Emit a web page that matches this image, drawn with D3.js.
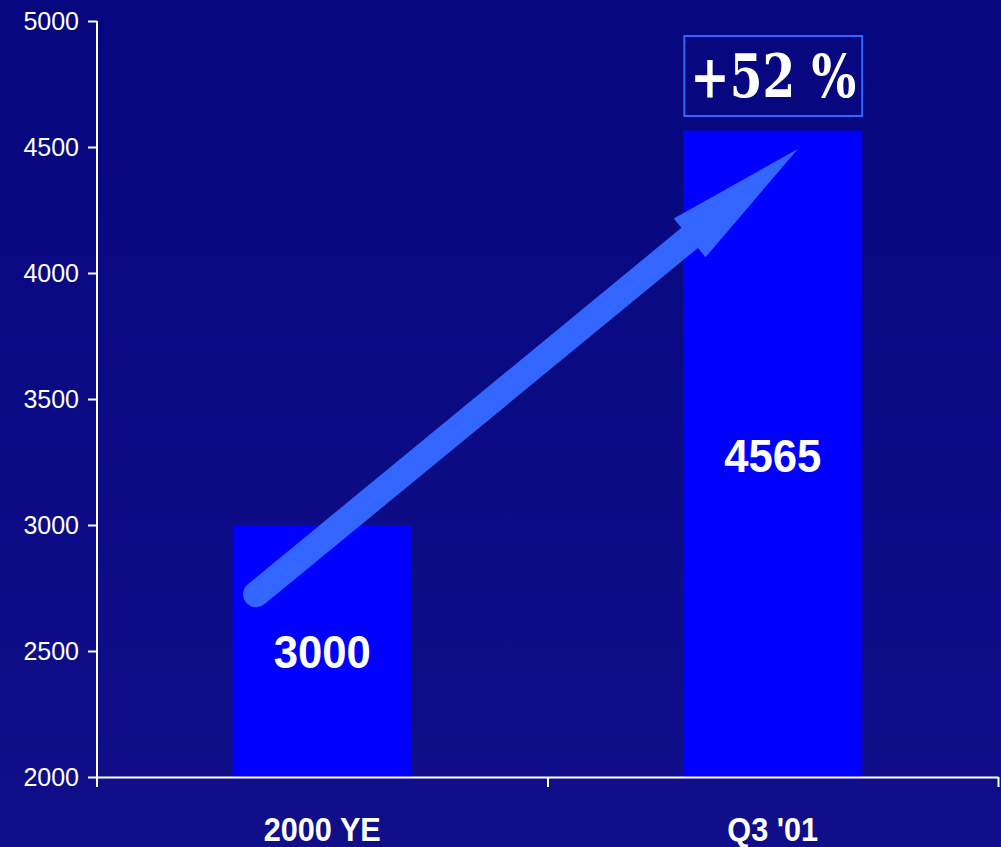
<!DOCTYPE html>
<html>
<head>
<meta charset="utf-8">
<script src="https://cdnjs.cloudflare.com/ajax/libs/d3/7.8.5/d3.min.js"></script>
<style>
  html, body { margin: 0; padding: 0; background: #0b0b84; }
  svg { display: block; }
</style>
</head>
<body>
<script>
// data
var categories = ["2000 YE", "Q3 '01"];
var values = [3000, 4565];
var yTicks = [2000, 2500, 3000, 3500, 4000, 4500, 5000];
var growthLabel = "+52 %";
// arrow annotation: from inside first bar to top of second bar (in data units)
var arrowFrom = { cat: "2000 YE", pos: 0.13, value: 2725 };
var arrowTo = { cat: "Q3 '01", pos: 0.64, value: 4492 };

var width = 1001, height = 847;
var mLeft = 97, mRight = 998, mTop = 21, mBottom = 777;

var svg = d3.select("body").append("svg")
    .attr("width", width)
    .attr("height", height);

// background gradient
var defs = svg.append("defs");
var grad = defs.append("linearGradient")
    .attr("id", "bg")
    .attr("x1", 0).attr("y1", 0).attr("x2", 0).attr("y2", 1);
grad.append("stop").attr("offset", "0%").attr("stop-color", "#06067f");
grad.append("stop").attr("offset", "100%").attr("stop-color", "#100f89");
svg.append("rect")
    .attr("width", width).attr("height", height)
    .attr("fill", "url(#bg)");

var x = d3.scaleBand()
    .domain(categories)
    .range([mLeft, mRight])
    .paddingInner(0.603)
    .paddingOuter(0.3015);

var y = d3.scaleLinear()
    .domain([2000, 5000])
    .range([mBottom, mTop]);

// bars
svg.selectAll("rect.bar")
    .data(values)
    .enter()
    .append("rect")
    .attr("class", "bar")
    .attr("x", function(d, i) { return x(categories[i]); })
    .attr("y", function(d) { return y(d); })
    .attr("width", x.bandwidth())
    .attr("height", function(d) { return mBottom - y(d); })
    .attr("fill", "#0000ff");

// value labels (slightly condensed like the original)
svg.selectAll("g.val")
    .data(values)
    .enter()
    .append("g")
    .attr("class", "val")
    .attr("transform", function(d, i) {
        var cx = x(categories[i]) + x.bandwidth() / 2;
        var cy = i == 0 ? y(d) + 143 : y(d) + 341;
        return "translate(" + cx + "," + cy + ") scale(0.95,1)";
    })
    .append("text")
    .attr("text-anchor", "middle")
    .attr("font-family", "Liberation Sans, Arial, sans-serif")
    .attr("font-weight", "bold")
    .attr("font-size", 46)
    .attr("fill", "#ffffff")
    .text(function(d) { return d; });

// arrow
var sx = x(arrowFrom.cat) + arrowFrom.pos * x.bandwidth(), sy = y(arrowFrom.value);
var tx = x(arrowTo.cat) + arrowTo.pos * x.bandwidth(), ty = y(arrowTo.value);
var dx = tx - sx, dy = ty - sy, len = Math.sqrt(dx * dx + dy * dy);
var ux = dx / len, uy = dy / len, nx = -uy, ny = ux;
var headLen = 140, headHalf = 25;
var hx = tx - ux * headLen, hy = ty - uy * headLen;

svg.append("line")
    .attr("x1", sx).attr("y1", sy)
    .attr("x2", hx + ux * 4).attr("y2", hy + uy * 4)
    .attr("stroke", "#3366ff")
    .attr("stroke-width", 26)
    .attr("stroke-linecap", "round");

svg.append("polygon")
    .attr("points", [
        [tx, ty],
        [hx + nx * headHalf, hy + ny * headHalf],
        [hx - nx * headHalf, hy - ny * headHalf]
    ].map(function(p) { return p.join(","); }).join(" "))
    .attr("fill", "#3366ff");

// growth label box
var boxX = x(categories[1]) + 1, boxW = x.bandwidth() - 1;
svg.append("rect")
    .attr("x", boxX)
    .attr("y", 36)
    .attr("width", boxW)
    .attr("height", 80)
    .attr("fill", "none")
    .attr("stroke", "#3366ff")
    .attr("stroke-width", 2);

svg.append("text")
    .attr("x", boxX + 6)
    .attr("y", 97)
    .attr("textLength", 166)
    .attr("lengthAdjust", "spacingAndGlyphs")
    .attr("font-family", "DejaVu Serif, serif")
    .attr("font-weight", "bold")
    .attr("font-size", 60)
    .attr("fill", "#ffffff")
    .text(growthLabel);

// y axis
var yAxis = d3.axisLeft(y)
    .tickValues(yTicks)
    .tickSize(9)
    .tickSizeOuter(0)
    .tickPadding(9)
    .tickFormat(d3.format("d"));

var gy = svg.append("g")
    .attr("transform", "translate(" + mLeft + ",0)")
    .call(yAxis);
gy.select(".domain").attr("d", "M0," + mTop + "V" + (mBottom + 10));
gy.selectAll("path, line").attr("stroke", "#ffffff").attr("stroke-width", 2);
gy.selectAll("text")
    .attr("fill", "#ffffff")
    .attr("font-family", "Liberation Sans, Arial, sans-serif")
    .attr("font-size", 25)
    .attr("dy", "0.35em");

// x axis: line with ticks at category boundaries
var xb = d3.scaleLinear().domain([0, categories.length]).range([mLeft, mRight]);
var gx = svg.append("g")
    .attr("transform", "translate(0," + mBottom + ")")
    .call(d3.axisBottom(xb)
        .tickValues(d3.range(1, categories.length + 1))
        .tickSize(10)
        .tickSizeOuter(0)
        .tickFormat(""));
gx.selectAll("path, line").attr("stroke", "#ffffff").attr("stroke-width", 2);

// category labels
svg.selectAll("g.cat")
    .data(categories)
    .enter()
    .append("g")
    .attr("class", "cat")
    .attr("transform", function(d) {
        return "translate(" + (x(d) + x.bandwidth() / 2) + ",841) scale(0.93,1)";
    })
    .append("text")
    .attr("text-anchor", "middle")
    .attr("font-family", "Liberation Sans, Arial, sans-serif")
    .attr("font-weight", "bold")
    .attr("font-size", 33)
    .attr("fill", "#ffffff")
    .text(function(d) { return d; });
</script>
</body>
</html>
